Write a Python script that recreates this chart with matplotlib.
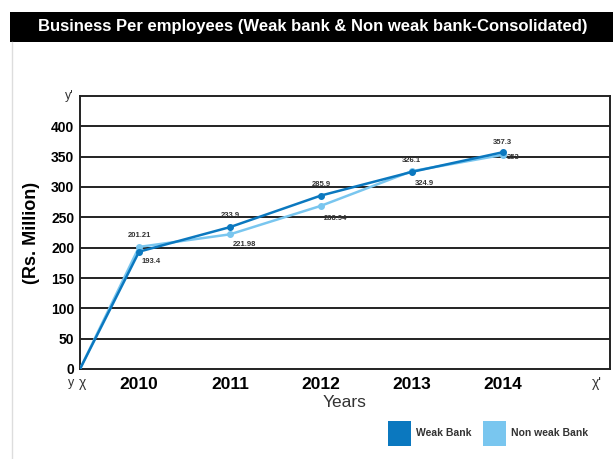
import matplotlib
matplotlib.use("Agg")
import matplotlib.pyplot as plt
from matplotlib.patches import Rectangle
import numpy as np

plt.rcParams["font.family"] = ["Liberation Sans", "DejaVu Sans"]

years = [2010, 2011, 2012, 2013, 2014]
weak_bank = [193.4, 233.9, 285.9, 324.9, 357.3]
non_weak_bank = [201.21, 221.98, 268.94, 326.1, 353]
weak_labels = ["193.4", "233.9", "285.9", "324.9", "357.3"]
non_weak_labels = ["201.21", "221.98", "268.94", "326.1", "353"]
y_ticks = [0, 50, 100, 150, 200, 250, 300, 350, 400]

dark = "#0b78bf"
light = "#79c6ef"
x_start, x_end = 2009.35, 2015.18

fig = plt.figure(figsize=(6.13, 4.59), dpi=100)

# title bar
fig.patches.append(Rectangle((10 / 613, 1 - 42 / 459), 1, 30 / 459, transform=fig.transFigure,
                             facecolor="black", edgecolor="none"))
fig.text(0.51, 1 - 27 / 459, "Business Per employees (Weak bank & Non weak bank-Consolidated)",
         color="white", fontsize=12, fontweight="bold", ha="center", va="center")
# thin border on the left
fig.add_artist(plt.Line2D([12 / 613, 12 / 613], [0, 1 - 42 / 459], transform=fig.transFigure,
                          color="#dddddd", lw=1))

ax = fig.add_axes([80 / 613, 1 - 369 / 459, 530 / 613, 273 / 459])
ax.set_xlim(x_start, x_end)
ax.set_ylim(0, 450)

for v in y_ticks[1:]:
    ax.axhline(v, color="#222222", lw=1.4, zorder=1)
for s in ax.spines.values():
    s.set_color("#222222")
    s.set_linewidth(1.4)

ax.plot(np.r_[x_start, years], np.r_[0, non_weak_bank], color=light, lw=1.8, zorder=3)
ax.plot(years, non_weak_bank, "o", color=light, ms=4, zorder=3)
ax.plot(np.r_[x_start, years], np.r_[0, weak_bank], color=dark, lw=1.8, zorder=4)
ax.plot(years, weak_bank, "o", color=dark, ms=4, zorder=4)

ann = dict(fontsize=5.5, fontweight="bold", color="#333333", textcoords="offset points", zorder=6)
weak_off = [(2, -7, "left"), (0, 8, "center"), (0, 8, "center"), (2, -8, "left"), (0, 7, "center")]
non_off = [(0, 8, "center"), (2, -7, "left"), (2, -9, "left"), (0, 8, "center"), (3, -2, "left")]
for x, y, t, (dx, dy, ha) in zip(years, weak_bank, weak_labels, weak_off):
    ax.annotate(t, (x, y), xytext=(dx, dy), ha=ha, va="center", **ann)
for x, y, t, (dx, dy, ha) in zip(years, non_weak_bank, non_weak_labels, non_off):
    ax.annotate(t, (x, y), xytext=(dx, dy), ha=ha, va="center", **ann)

ax.set_yticks(y_ticks)
ax.set_yticklabels([str(v) for v in y_ticks], fontsize=10, fontweight="bold")
ax.set_xticks(years)
ax.set_xticklabels([str(y) for y in years], fontsize=12.5, fontweight="bold")
ax.tick_params(length=0, pad=4)
ax.tick_params(axis="x", pad=6)

ax.set_xlabel("Years", fontsize=12.5, color="#333333", labelpad=2)
ax.set_ylabel("(Rs. Million)", fontsize=13, fontweight="bold", labelpad=8)

ax.text(-0.012, 1.0, "y'", transform=ax.transAxes, ha="right", va="center", fontsize=9, color="#333333")
ax.text(-0.016, -0.05, "y", transform=ax.transAxes, ha="center", va="center", fontsize=9, color="#333333")
ax.text(0.004, -0.05, "χ", transform=ax.transAxes, ha="center", va="center", fontsize=10, color="#333333")
ax.text(0.975, -0.05, "χ'", transform=ax.transAxes, ha="center", va="center", fontsize=10, color="#333333")

# legend boxes
fig.patches.append(Rectangle((388 / 613, 1 - 446 / 459), 23 / 613, 25 / 459, transform=fig.transFigure,
                             facecolor=dark, edgecolor="none"))
fig.text(416 / 613, 1 - 433 / 459, "Weak Bank", fontsize=7.5, fontweight="bold", color="#333333", va="center")
fig.patches.append(Rectangle((483 / 613, 1 - 446 / 459), 23 / 613, 25 / 459, transform=fig.transFigure,
                             facecolor=light, edgecolor="none"))
fig.text(511 / 613, 1 - 433 / 459, "Non weak Bank", fontsize=7.5, fontweight="bold", color="#333333", va="center")

fig.savefig("out.png", dpi=100)
